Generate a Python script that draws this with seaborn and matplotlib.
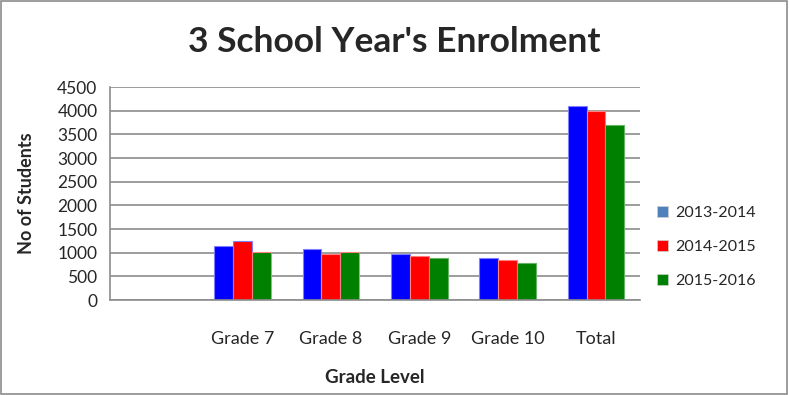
import numpy as np
import pandas as pd
import matplotlib
matplotlib.use("Agg")
import matplotlib.pyplot as plt
import seaborn as sns
from matplotlib.patches import Rectangle

# data
grades = ["", "Grade 7", "Grade 8", "Grade 9", "Grade 10", "Total"]
years = ["2013-2014", "2014-2015", "2015-2016"]
y2013 = [np.nan, 1150, 1080, 965, 885, 4100]
y2014 = [np.nan, 1250, 965, 920, 850, 3985]
y2015 = [np.nan, 1020, 1020, 885, 780, 3705]

bar_colors = ["#0000FF", "#FF0000", "#008000"]
legend_colors = ["#4F81BD", "#FF0000", "#008000"]

df = pd.DataFrame({"grade": grades * 3,
                   "year": np.repeat(years, len(grades)),
                   "students": y2013 + y2014 + y2015})

sns.set_style("white")
plt.rcParams["font.family"] = ["Lato", "DejaVu Sans"]

fig = plt.figure(figsize=(7.89, 3.95), dpi=100)
ax = fig.add_axes([0.1394, 0.2405, 0.672, 0.539])

sns.barplot(data=df, x="grade", y="students", hue="year", order=grades,
            hue_order=years, palette=bar_colors, width=0.64, ax=ax,
            linewidth=0.8, saturation=1)
for patch, c in zip(ax.patches, np.repeat(["#8080FF", "#FF8080", "#66B366"], len(grades))):
    patch.set_edgecolor(c)

ax.set_ylim(0, 4500)
ax.set_yticks(range(0, 4501, 500))
ax.yaxis.grid(True, color="#8C8C8C", linewidth=1.2)
ax.set_axisbelow(True)
for s in ["top", "right"]:
    ax.spines[s].set_visible(False)
for s in ["left", "bottom"]:
    ax.spines[s].set_color("#8C8C8C")
    ax.spines[s].set_linewidth(1.2)
ax.tick_params(axis="y", direction="out", length=5, color="#8C8C8C", labelsize=12.5, pad=4)
ax.tick_params(axis="x", length=0, labelsize=13, pad=22)

ax.set_xlabel("Grade Level", fontsize=13.5, fontweight="bold", labelpad=16)
ax.set_ylabel("No of Students", fontsize=13, fontweight="bold", labelpad=16)

fig.suptitle("3 School Year's Enrolment", fontsize=25.5, fontweight="bold", x=0.5, y=0.935)

handles = [Rectangle((0, 0), 1, 1, facecolor=c, edgecolor="#D0D0D0", linewidth=0.5)
           for c in legend_colors]
ax.legend(handles, years, loc="center left", bbox_to_anchor=(1.005, 0.248),
          frameon=False, fontsize=11.5, handlelength=0.7, handleheight=0.7,
          labelspacing=1.25, handletextpad=0.45)

fig.patches.append(Rectangle((0.001, 0.002), 0.997, 0.996, transform=fig.transFigure,
                             fill=False, edgecolor="#8C8C8C", linewidth=1.2))

plt.savefig("out.png", dpi=100)
